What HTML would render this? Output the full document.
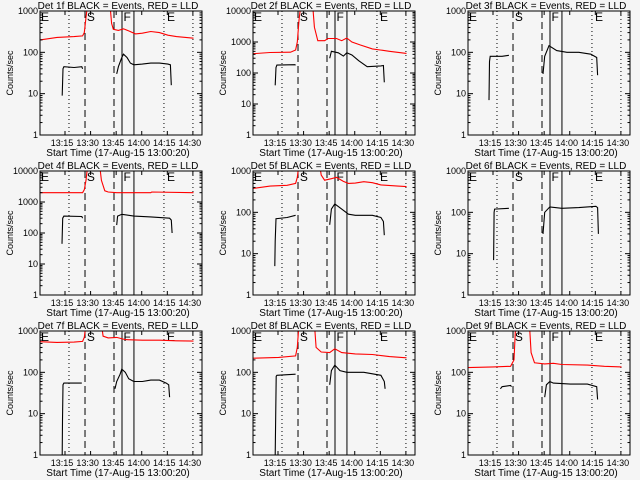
<!DOCTYPE html>
<html><head><meta charset="utf-8"><style>
html,body{margin:0;padding:0;background:#f5f5f5;}
svg{display:block;font-family:"Liberation Sans",sans-serif;}
</style></head><body>
<svg id="chart" width="640" height="480" viewBox="0 0 640 480"></svg>
<script>
const detNames = ["1f","2f","3f","4f","5f","6f","7f","8f","9f"];
const maxDecades = [3,4,3,4,3,3,3,3,3];
const tickLabels = ["13:15","13:30","13:45","14:00","14:15","14:30"];
const tickMinutes = [14.67,29.67,44.67,59.67,74.67,89.67];
const dottedLines = [17,72.7,89.7];
const dashedLines = [26.4,43.4];
const solidLines = [48.1,55.1];
const markerLetters = ["E","S","F","E"];
const markerMinutes = [0.6,27.5,49,74.5];
const blackT = [
 [13,13.5,14,20,24.5,25,null,45,46,48,49,51,53,55,60,65,70,75,76.5,77],
 [13,13.5,14,24.5,25,null,45,46,50,53,55,58,62,67,75,76.5,77],
 [12.3,12.6,13,20,24,null,44,45,47.5,52,58,65,72,75.5,76],
 [12.9,13.3,14,24.5,25,null,45,45.5,48,55,65,76,77,77.5],
 [12.8,13,13.5,20,25,null,45,46,48,52,56,60,70,75,76.5,77],
 [15,15.3,15.6,24,null,44,45,48,55,65,75,76,76.5],
 [13,13.2,13.5,14,24.5,null,44,45,47,48,50,52,55,60,65,70,74,75.5,76],
 [13,13.3,13.6,14,25,null,45,46,48,51,55,65,75,77,77.5],
 [19,20,25,25.5,null,45,46,48,50,60,70,75.5,76]
];
const blackV = [
 [9,40,45,43,45,40,null,30,45,75,90,75,55,50,52,55,55,52,50,16],
 [40,150,180,185,180,null,300,500,450,350,450,380,250,160,170,175,50],
 [7,60,80,80,85,null,30,80,145,110,100,100,90,75,28],
 [45,300,350,340,300,null,180,350,400,350,330,300,260,100],
 [5,20,70,75,85,null,50,120,160,120,90,85,85,75,60,28],
 [7,100,120,125,null,30,100,135,125,130,140,130,30],
 [1,7,50,55,55,null,40,60,90,120,100,70,60,60,65,65,55,50,25],
 [1,9,80,85,90,null,50,110,150,110,100,100,85,60,40],
 [40,45,48,45,null,25,50,60,55,52,52,45,22]
];
const redT = [
 [0,10,20,25,26,27,28,41,42,43,46,49,52,56,60,65,70,75,80,90],
 [0,10,22,25,26,27,28,35,36,38,42,44,49,52,55,58,63,70,80,90],
 [],
 [0,25,26,27,28,35,36,38,40,45,65,65.5,90],
 [0,10,20,25,26,27,39,40,42,46,49,53,56,60,65,70,75,85,90],
 [],
 [0,10,20,25,26,27,36,37,40,45,50,60,70,80,90],
 [0,15,25,26,27,36,37,40,45,48,52,60,70,80,90],
 [0,15,25,27,28,36,37,39,45,50,55,70,80,90]
];
const redV = [
 [200,230,240,250,300,700,1500,1500,500,360,340,370,330,280,290,320,300,260,240,220],
 [420,460,470,550,1000,5000,15000,15000,3000,1100,1100,1300,1300,1100,1350,1000,800,600,500,430],
 [],
 [2000,2000,2500,5000,15000,15000,5000,2300,2100,2000,2000,2100,2000],
 [380,430,450,500,700,1500,1500,800,600,650,700,560,500,510,550,520,460,430,420],
 [],
 [550,530,540,560,700,1500,1500,750,680,700,620,600,600,580,570],
 [220,230,250,400,1500,1500,400,310,300,370,300,280,270,240,225],
 [130,135,140,200,1500,1500,300,170,160,165,155,150,140,135]
];
const svg = document.getElementById('chart');
const NS = "http://www.w3.org/2000/svg";
function mk(tag, attrs, parent){ const e=document.createElementNS(NS,tag); for(const k in attrs) e.setAttribute(k,attrs[k]); parent.appendChild(e); return e; }
const colLeft=[40,253,468], rowTop=[11,171,331], W=162, H=124, PX=1.705;
for(let p=0;p<9;p++){
 const L=colLeft[p%3], T=rowTop[Math.floor(p/3)], nd=maxDecades[p];
 const g=mk('g',{},svg);
 
 
 const xS=t=>L+t*PX;
 const yS=v=>T+(nd-Math.log10(Math.max(v,1)))*H/nd;
 const clip=mk('clipPath',{id:'c'+p},g); mk('rect',{x:L,y:T,width:W,height:H},clip);
 dottedLines.forEach(t=>{const l=mk('line',{x1:xS(t),x2:xS(t),y1:T,y2:T+H,stroke:'#000','stroke-width':1,'stroke-dasharray':'1,3'},g);
  
  });
 dashedLines.forEach(t=>{const l=mk('line',{x1:xS(t),x2:xS(t),y1:T,y2:T+H,stroke:'#000','stroke-width':1,'stroke-dasharray':'7,4'},g);
  
  });
 solidLines.forEach(t=>{const l=mk('line',{x1:xS(t),x2:xS(t),y1:T,y2:T+H,stroke:'#000','stroke-width':1},g);
  
  });
 markerLetters.forEach((s,i)=>{const tx=mk('text',{x:xS(markerMinutes[i]),y:T+10,'font-size':12,fill:'#000'},g); tx.textContent=s;
  
  });
 function series(ts,vs,color,name){
  let d='',pen=false;
  for(let i=0;i<ts.length;i++){ if(ts[i]===null){pen=false;continue;} d+=(pen?'L':'M')+xS(ts[i]).toFixed(1)+','+yS(vs[i]).toFixed(1); pen=true; }
  if(!d) return;
  const pa=mk('path',{d:d,fill:'none',stroke:color,'stroke-width':1.1,'clip-path':'url(#c'+p+')'},g);
  
  
 }
 series(redT[p],redV[p],'#ff0000','red-lld-series');
 series(blackT[p],blackV[p],'#000','black-events-series');
 const box=mk('rect',{x:L,y:T,width:W,height:H,fill:'none',stroke:'#000','stroke-width':1},g);
 
 
 for(let k=0;k<=nd;k++){
  const y=T+H-k*H/nd;
  mk('line',{x1:L,x2:L+5,y1:y,y2:y,stroke:'#000'},g); mk('line',{x1:L+W-5,x2:L+W,y1:y,y2:y,stroke:'#000'},g);
  if(k<nd) for(let m=2;m<10;m++){const yy=y-Math.log10(m)*H/nd; mk('line',{x1:L,x2:L+2.5,y1:yy,y2:yy,stroke:'#000'},g); mk('line',{x1:L+W-2.5,x2:L+W,y1:yy,y2:yy,stroke:'#000'},g);}
  const tl=mk('text',{x:L-2,y:y+3,'font-size':9,'text-anchor':'end',fill:'#000'},g); tl.textContent=String(Math.pow(10,k));
  
  
 }
 tickMinutes.forEach((t,i)=>{const x=xS(t);
  mk('line',{x1:x,x2:x,y1:T+H,y2:T+H-4,stroke:'#000'},g); mk('line',{x1:x,x2:x,y1:T,y2:T+4,stroke:'#000'},g);
  const tl=mk('text',{x:x-3,y:T+H+11,'font-size':9,'text-anchor':'middle',fill:'#000'},g); tl.textContent=tickLabels[i];
  
  });
 const ti=mk('text',{x:L+W/2-3,y:T-2,'font-size':10,'text-anchor':'middle',fill:'#000'},g); ti.textContent='Det '+detNames[p]+' BLACK = Events, RED = LLD';
 
 
 const xt=mk('text',{x:L+W/2-3,y:T+H+21,'font-size':10,'text-anchor':'middle',fill:'#000'},g); xt.textContent='Start Time (17-Aug-15 13:00:20)';
 
 
 const yt=mk('text',{x:0,y:0,'font-size':9,'text-anchor':'middle',fill:'#000',transform:'translate('+(L-27)+','+(T+H/2)+') rotate(-90)'},g); yt.textContent='Counts/sec';
 
 
}
</script>
</body></html>
